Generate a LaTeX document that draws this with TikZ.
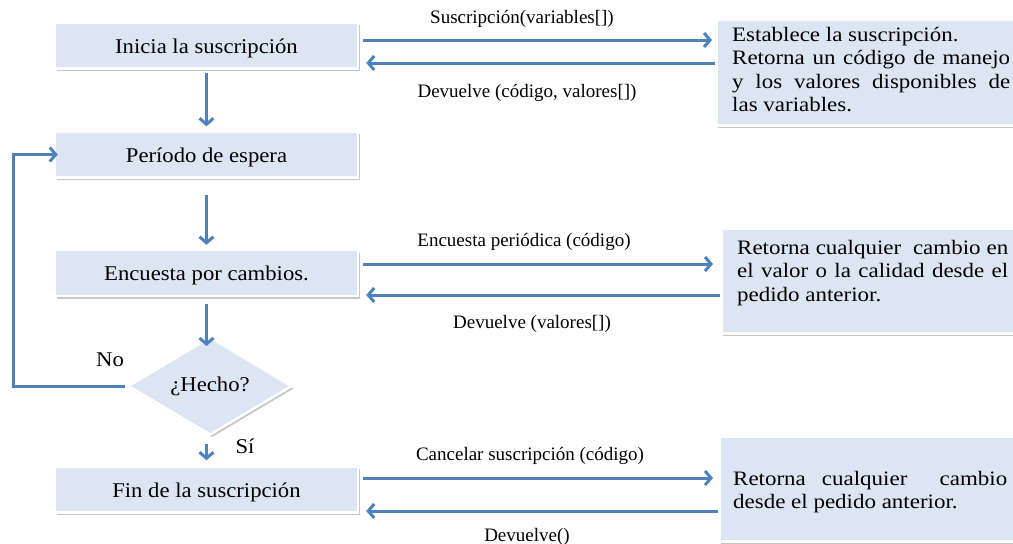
\documentclass[tikz,border=0pt]{standalone}
\usepackage{fontspec}
\setmainfont{Liberation Serif}
\newfontfamily\boxfont[FakeStretch=1.08]{Liberation Serif}
\newfontfamily\infofont[FakeStretch=1.12]{Liberation Serif}
\usetikzlibrary{arrows.meta,shapes.geometric,shadows}
\definecolor{boxblue}{RGB}{220,230,242}
\definecolor{linkblue}{RGB}{79,129,189}
\tikzset{
  softshadow/.style={drop shadow={shadow xshift=2pt,shadow yshift=-2.5pt,fill=black,opacity=0.22}},
  stepbox/.style={rectangle,fill=boxblue,draw=white,line width=2.5pt,softshadow,
    minimum width=303pt,minimum height=46pt,inner sep=0pt,
    text height=16pt,text depth=1pt,
    font=\boxfont\fontsize{21}{24}\selectfont},
  decision/.style={diamond,fill=boxblue,draw=white,line width=2.5pt,softshadow,
    minimum width=164pt,minimum height=72pt,inner sep=0pt,
    font=\boxfont\fontsize{21}{24}\selectfont},
  infobox/.style={rectangle,fill=boxblue,draw=white,line width=2.5pt,softshadow,
    anchor=north west,minimum width=310pt,inner sep=0pt},
  infotext/.style={anchor=north west,align=justify,inner sep=0pt,
    font=\infofont\fontsize{20.5}{23.5}\selectfont},
  lbl/.style={anchor=base,inner sep=0pt,font=\fontsize{19}{22}\selectfont},
  plain/.style={inner sep=0pt,font=\boxfont\fontsize{21}{24}\selectfont},
  flow/.style={draw=linkblue,line width=3pt,
    -{Straight Barb[length=6pt,width=14pt]}},
}
\newcommand{\topstrut}{\rule{0pt}{15pt}}
\begin{document}
\begin{tikzpicture}[x=1pt,y=-1pt]
\useasboundingbox (0,0) rectangle (1013,544);

% left column: process steps
\node[stepbox] (start) at (206.5,45.5) {Inicia la suscripción};
\node[stepbox] (wait) at (206.5,154.5) {Período de espera};
\node[stepbox] (poll) at (206.5,273) {Encuesta por cambios.};
\node[decision] (done) at (210,386) {¿Hecho?};
\node[stepbox] (stop) at (206.5,489.5) {Fin de la suscripción};

% right column: server responses
\node[infobox,minimum height=106pt] (srv1) at (715,18) {};
\node[infotext,text width=278pt] (srv1t) at (732,26)
  {\topstrut Establece la suscripción.\newline
   Retorna un código de manejo\linebreak
   y los valores disponibles de\linebreak
   las variables.};
\node[infobox,minimum height=105pt] (srv2) at (720,227) {};
\node[infotext,text width=271pt] (srv2t) at (737,239)
  {\topstrut Retorna cualquier\ \ cambio en\linebreak
   el valor o la calidad desde el\linebreak
   pedido anterior.};
\node[infobox,minimum height=105pt] (srv3) at (718,435) {};
\node[infotext,text width=274pt] (srv3t) at (733,470)
  {\topstrut Retorna cualquier\ \ cambio\linebreak
   desde el pedido anterior.};

% vertical flow
\draw[flow] ([yshift=-3pt]start.south) -- ([yshift=4pt]wait.north);
\draw[flow] ([yshift=-16pt]wait.south) -- ([yshift=4pt]poll.north);
\draw[flow] ([yshift=-7pt]poll.south) -- (poll.south |- {(0,346)});
\draw[flow] ([yshift=-8pt]done.south -| stop.north) -- ([yshift=5pt]stop.north);

% loop back when not done
\coordinate (back) at (13,383);
\draw[flow] ([xshift=-2pt]done.west) -- (done.west -| back) |- ([xshift=4pt]wait.west);
\node[plain] (no) at (110,360) {No};
\node[plain] (yes) at (245,446) {Sí};

% requests and replies
\draw[flow] ([xshift=4pt]start.east |- {(0,40)}) -- ([xshift=-3pt]srv1.west |- {(0,40)});
\draw[flow] (srv1.west |- {(0,63)}) -- ([xshift=7pt]start.east |- {(0,63)});
\node[lbl] (req1) at (522,23) {Suscripción(variables[])};
\node[lbl] (rep1) at (527,97) {Devuelve (código, valores[])};

\draw[flow] ([xshift=4pt]poll.east |- {(0,264)}) -- ([xshift=-7pt]srv2.west |- {(0,264)});
\draw[flow] (srv2.west |- {(0,295)}) -- ([xshift=7pt]poll.east |- {(0,295)});
\node[lbl] (req2) at (524,246) {Encuesta periódica (código)};
\node[lbl] (rep2) at (532,328) {Devuelve (valores[])};

\draw[flow] ([xshift=4pt]stop.east |- {(0,478)}) -- ([xshift=-5pt]srv3.west |- {(0,478)});
\draw[flow] (srv3.west |- {(0,511)}) -- ([xshift=7pt]stop.east |- {(0,511)});
\node[lbl] (req3) at (530,460) {Cancelar suscripción (código)};
\node[lbl] (rep3) at (527,541) {Devuelve()};
\end{tikzpicture}
\end{document}
